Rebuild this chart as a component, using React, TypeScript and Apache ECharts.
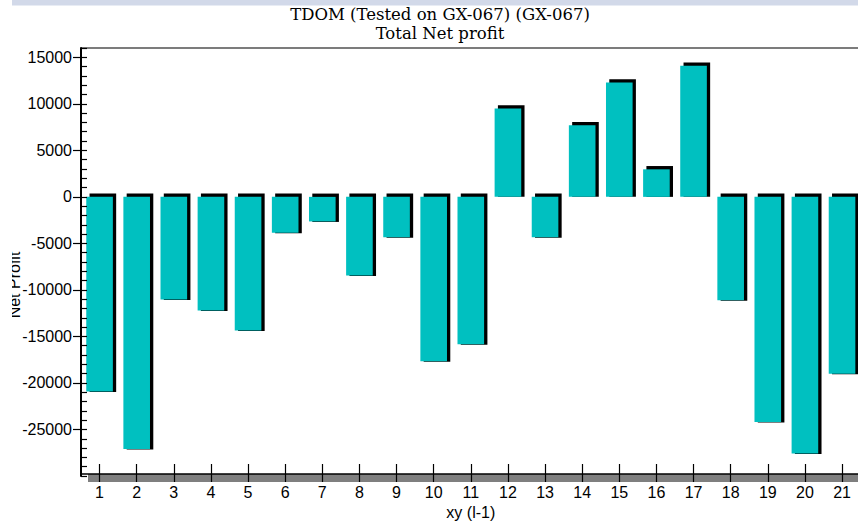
import React, { useEffect, useRef } from "react";
import * as echarts from "echarts";

const categories = ["1","2","3","4","5","6","7","8","9","10","11","12","13","14","15","16","17","18","19","20","21"];
const netProfit = [-20910, -27110, -11040, -12220, -14370, -3850, -2640, -8450, -4330, -17680, -15850, 9500, -4330, 7700, 12300, 2960, 14080, -11110, -24200, -27580, -19000];
const titleLine1 = "TDOM (Tested on GX-067) (GX-067)";
const titleLine2 = "Total Net profit";
const xName = "xy (l-1)";
const yName = "Net Profit";

const SANS = "'Liberation Sans', Arial, sans-serif";
const SERIF = "'DejaVu Serif', serif";

export default function App() {
  const ref = useRef<HTMLDivElement>(null);
  useEffect(() => {
    if (!ref.current) return;
    const chart = echarts.init(ref.current, undefined, { renderer: "svg" });
    const yCommon = { type: "value", min: -30000, max: 16000, splitLine: { show: false } };
    chart.setOption({
      animation: false,
      backgroundColor: "#ffffff",
      title: {
        text: titleLine1,
        subtext: titleLine2,
        left: 440,
        top: 5,
        textAlign: "center",
        itemGap: 0,
        padding: 0,
        textStyle: { fontFamily: SERIF, fontSize: 16.5, fontWeight: "normal", color: "#000", lineHeight: 19 },
        subtextStyle: { fontFamily: SERIF, fontSize: 16.5, color: "#000", lineHeight: 19 },
      },
      grid: { left: 81, top: 48, width: 779.6, height: 428, containLabel: false, outerBoundsMode: "none" },
      xAxis: [
        {
          type: "category",
          data: categories,
          boundaryGap: true,
          offset: -2,
          z: 10,
          axisLine: { show: true, onZero: false, lineStyle: { color: "#000", width: 1.5 } },
          axisTick: { show: true, alignWithLabel: true, inside: true, length: 10, lineStyle: { color: "#000", width: 1.2 } },
          axisLabel: { color: "#000", fontFamily: SANS, fontSize: 16, margin: 10 },
          name: xName,
          nameLocation: "middle",
          nameGap: 28,
          nameTextStyle: { color: "#000", fontFamily: SANS, fontSize: 16 },
        },
        {
          type: "category",
          data: categories,
          boundaryGap: true,
          position: "bottom",
          offset: -2,
          z: 10,
          axisLine: { show: false, onZero: false },
          axisTick: { show: true, alignWithLabel: true, inside: false, length: 8, lineStyle: { color: "#000", width: 1.2 } },
          axisLabel: { show: false },
        },
      ],
      yAxis: [
        {
          ...yCommon,
          interval: 5000,
          z: 10,
          axisLine: { show: true, onZero: false, lineStyle: { color: "#000", width: 2 } },
          axisTick: { show: true, inside: false, length: 8, lineStyle: { color: "#000", width: 1.2 } },
          axisLabel: {
            color: "#000",
            fontFamily: SANS,
            fontSize: 16,
            margin: 9,
            showMinLabel: false,
            showMaxLabel: false,
            formatter: (v: number) => String(v),
          },
        },
        {
          ...yCommon,
          interval: 1000,
          position: "left",
          z: 10,
          axisLine: { show: false, onZero: false },
          axisTick: { show: true, inside: true, length: 6, lineStyle: { color: "#000", width: 1.2 } },
          axisLabel: { show: false },
        },
      ],
      graphic: [
        { type: "rect", z: 0, shape: { x: 12, y: 0, width: 846, height: 5.5 }, style: { fill: "#d2d9e9" } },
        { type: "line", z: 5, shape: { x1: 81, y1: 48, x2: 858, y2: 48 }, style: { stroke: "#505050", lineWidth: 1.5 } },
        { type: "rect", z: 0, shape: { x: 88, y: 474, width: 770, height: 8 }, style: { fill: "#7f7f7f" } },
        {
          type: "text",
          z: 5,
          x: 14.5,
          y: 285,
          rotation: Math.PI / 2,
          style: { text: yName, fontFamily: SANS, fontSize: 16, fill: "#000", textAlign: "center", textVerticalAlign: "middle" },
        },
        { type: "rect", z: 20, shape: { x: 0, y: 200, width: 12, height: 150 }, style: { fill: "#ffffff" } },
      ],
      series: [
        {
          type: "custom",
          xAxisIndex: 0,
          yAxisIndex: 0,
          z: 2,
          data: netProfit.map((v, i) => [i, v]),
          encode: { x: 0, y: 1 },
          renderItem: (params: any, api: any) => {
            const idx = api.value(0);
            const v = api.value(1);
            const pZero = api.coord([idx, 0]);
            const pVal = api.coord([idx, v]);
            const bw = api.size([1, 0])[0] * 0.717;
            const top = Math.min(pZero[1], pVal[1]);
            const bottom = Math.max(pZero[1], pVal[1]);
            const left = pZero[0] - bw / 2;
            return {
              type: "group",
              children: [
                {
                  type: "rect",
                  shape: { x: left + 3.3, y: top - 3.3, width: bw, height: bottom - top + 3.3 + (v < 0 ? 0.5 : 0) },
                  style: { fill: "#000000" },
                },
                {
                  type: "rect",
                  shape: { x: left, y: top, width: bw, height: bottom - top },
                  style: { fill: "#00c0c0" },
                },
              ],
            };
          },
        },
      ],
    });
    return () => chart.dispose();
  }, []);
  return <div ref={ref} style={{ position: "fixed", left: 0, top: 0, width: 858, height: 521 }} />;
}
